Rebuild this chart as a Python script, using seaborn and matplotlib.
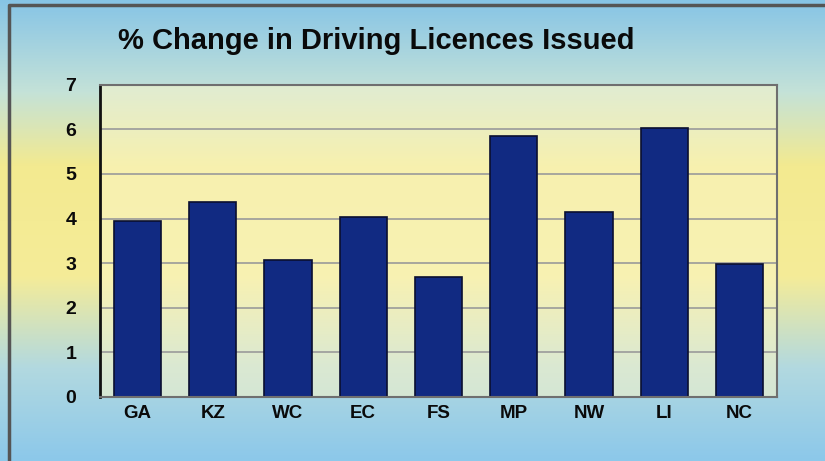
import numpy as np
import pandas as pd
import seaborn as sns
import matplotlib.pyplot as plt
from matplotlib.colors import LinearSegmentedColormap

# data
provinces = ["GA", "KZ", "WC", "EC", "FS", "MP", "NW", "LI", "NC"]
pct_change = [3.95, 4.37, 3.07, 4.04, 2.69, 5.85, 4.15, 6.03, 2.98]
y_ticks = [0, 1, 2, 3, 4, 5, 6, 7]

df = pd.DataFrame({"province": provinces, "change": pct_change})

sns.set_theme(style="white")
plt.rcParams["font.family"] = ["Liberation Sans", "DejaVu Sans"]

fig = plt.figure(figsize=(8.25, 4.61), dpi=100)

# blue-yellow-blue background
bg = fig.add_axes([0, 0, 1, 1], zorder=0)
cmap = LinearSegmentedColormap.from_list(
    "bg", [(0, "#86c4e6"), (0.2, "#c4e2d8"), (0.36, "#f3ea90"),
           (0.6, "#f5ec98"), (0.8, "#b2d9e0"), (1, "#8cc8ea")])
grad = np.linspace(0, 1, 256).reshape(-1, 1)
bg.imshow(grad, aspect="auto", cmap=cmap, extent=[0, 1, 0, 1], origin="upper")
bg.set_xlim(0, 1)
bg.set_ylim(0, 1)
bg.axis("off")
bg.plot([0.011, 0.011, 0.999], [0, 0.99, 0.99], color="#555555", lw=2.5)

ax = fig.add_axes([0.121, 0.139, 0.821, 0.677], zorder=1)
ax.patch.set_facecolor("#fbf6c8")
ax.patch.set_alpha(0.55)

sns.barplot(data=df, x="province", y="change", color="#112a82",
            saturation=1, width=0.63, edgecolor="#0a0f30", linewidth=1.2, ax=ax)

ax.set_ylim(0, 7)
ax.set_xlim(-0.5, len(provinces) - 0.5)
ax.set_yticks(y_ticks)
ax.yaxis.grid(True, color="#9a9a9a", lw=1.2)
ax.set_axisbelow(True)
ax.set_xlabel("")
ax.set_ylabel("")
ax.tick_params(axis="x", labelsize=13.5, length=0, pad=6)
ax.tick_params(axis="y", labelsize=14, length=0, pad=17)
for lab in ax.get_xticklabels() + ax.get_yticklabels():
    lab.set_fontweight("bold")
    lab.set_color("#0a0a0a")

for side in ["top", "right", "bottom"]:
    ax.spines[side].set_color("#6f6f6f")
    ax.spines[side].set_linewidth(1.5)
ax.spines["left"].set_color("#111111")
ax.spines["left"].set_linewidth(2)

fig.text(0.143, 0.912, "% Change in Driving Licences Issued", fontsize=21,
         fontweight="bold", color="#0a0a0a", va="center", ha="left")

fig.savefig("out.png", dpi=100)
